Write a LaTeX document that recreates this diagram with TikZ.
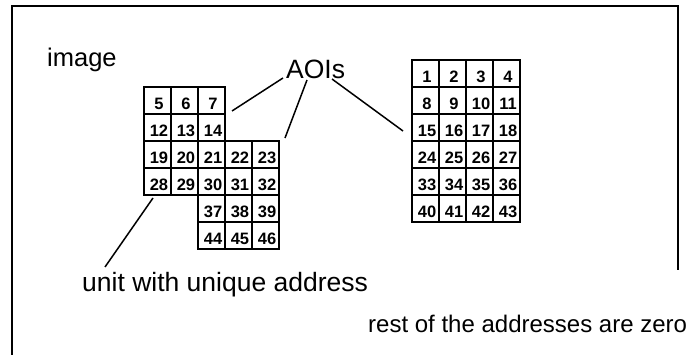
\documentclass[tikz,border=0pt]{standalone}
\usepackage{fontspec}
\setmainfont{Liberation Sans}
\begin{document}
\begin{tikzpicture}[x=1pt,y=-1pt,
  frameline/.style={line width=1.2pt,black},
  outer/.style={line width=2.8pt,black,line join=miter},
  inner/.style={line width=1.4pt,black},
  pointer/.style={line width=1.5pt,black},
  cellnum/.style={font=\fontsize{16.5}{18}\selectfont\bfseries,inner sep=0pt,anchor=center},
  label/.style={inner sep=0pt,anchor=base west}]
\useasboundingbox (0,0) rectangle (691,355);

% open frame around the picture
\draw[frameline] (12,355) -- (12,6) -- (678,6) -- (678,270);

% grid pitch
\def\pitch{27}

% first AOI: 3 columns x 4 rows (its last column below row 2 is covered by the second AOI)
\begin{scope}[shift={(144,87)}]
  \fill[white] (0,0) rectangle (81,108);
  \foreach \i in {1,2} \draw[inner] (\i*\pitch,0) -- (\i*\pitch,108);
  \foreach \j in {1,2,3} \draw[inner] (0,\j*\pitch) -- (81,\j*\pitch);
  \draw[outer] (0,0) rectangle (81,108);
  \foreach \n/\cc/\rr in {5/0/0,6/1/0,7/2/0,12/0/1,13/1/1,14/2/1,19/0/2,20/1/2,28/0/3,29/1/3} {
    \node[cellnum] (a-\n) at (\cc*\pitch+15,\rr*\pitch+17) {\n};
  }
\end{scope}

% second AOI: 3 columns x 4 rows, laid over the first
\begin{scope}[shift={(198,141)}]
  \fill[white] (0,0) rectangle (81,108);
  \foreach \i in {1,2} \draw[inner] (\i*\pitch,0) -- (\i*\pitch,108);
  \foreach \j in {1,2,3} \draw[inner] (0,\j*\pitch) -- (81,\j*\pitch);
  \draw[outer] (0,0) rectangle (81,108);
  \foreach \n [count=\k from 0] in {21,22,23,30,31,32,37,38,39,44,45,46} {
    \pgfmathtruncatemacro\cc{mod(\k,3)}
    \pgfmathtruncatemacro\rr{div(\k,3)}
    \node[cellnum] (b-\n) at (\cc*\pitch+15,\rr*\pitch+17) {\n};
  }
\end{scope}

% third AOI: 4 columns x 6 rows
\begin{scope}[shift={(412,60)}]
  \foreach \i in {1,2,3} \draw[inner] (\i*\pitch,0) -- (\i*\pitch,162);
  \foreach \j in {1,...,5} \draw[inner] (0,\j*\pitch) -- (108,\j*\pitch);
  \draw[outer] (0,0) rectangle (108,162);
  \foreach \n [count=\k from 0] in {1,2,3,4,8,9,10,11,15,16,17,18,24,25,26,27,33,34,35,36,40,41,42,43} {
    \pgfmathtruncatemacro\cc{mod(\k,4)}
    \pgfmathtruncatemacro\rr{div(\k,4)}
    \node[cellnum] (c-\n) at (\cc*\pitch+15,\rr*\pitch+17) {\n};
  }
\end{scope}

% labels
\node[label,font=\fontsize{25.5}{30}\selectfont] (image) at (47,67) {image};
\node[label,font=\fontsize{26.5}{30}\selectfont] (aois) at (286,79) {AOIs};
\node[label,font=\fontsize{26.5}{30}\selectfont] (unit) at (82,292) {unit with unique address};
\node[label,font=\fontsize{24}{28}\selectfont] (rest) at (368,333) {rest of the addresses are zero};

% pointer ends
\coordinate (p1) at (283,78);
\coordinate (p2) at (307,80);
\coordinate (p3) at (332,79);
\coordinate (q1) at (232,111);
\coordinate (q2) at (285,138);
\coordinate (q3) at (403,131);
\coordinate (u0) at (153,198);
\coordinate (u1) at (105,267);

\draw[pointer] (p1) -- (q1);
\draw[pointer] (p2) -- (q2);
\draw[pointer] (p3) -- (q3);
\draw[pointer] (u0) -- (u1);
\end{tikzpicture}
\end{document}
